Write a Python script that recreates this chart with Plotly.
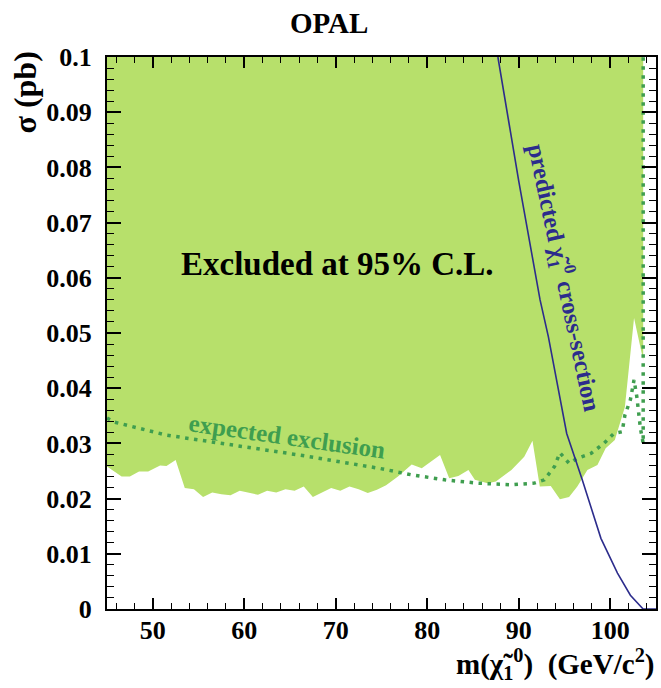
import plotly.graph_objects as go

# Observed 95% CL upper limit (lower edge of excluded region)
obs_mass = [45.0, 46.6, 47.5, 48.5, 49.5, 50.8, 51.5, 52.5, 53.5, 54.5, 55.5, 56.5, 57.5,
            58.5, 59.5, 60.5, 61.5, 62.5, 63.5, 64.5, 65.5, 66.5, 67.5, 68.5, 69.5, 70.5,
            71.5, 72.5, 73.5, 74.5, 75.5, 76.8, 78.3, 79.4, 81.4, 82.4, 83.4, 84.5, 85.2,
            86.6, 87.5, 89.2, 90.6, 91.5, 92.3, 93.5, 94.5, 95.5, 96.4, 97.5, 98.6, 99.5,
            100.5, 101.6, 102.6, 103.6]
obs_sigma = [0.0258, 0.0240, 0.0240, 0.0249, 0.0249, 0.0260, 0.0259, 0.0270, 0.0219, 0.0217,
             0.0203, 0.0211, 0.0208, 0.0206, 0.0214, 0.0210, 0.0207, 0.0214, 0.0211, 0.0217,
             0.0214, 0.0222, 0.0203, 0.0211, 0.0219, 0.0214, 0.0222, 0.0217, 0.0210, 0.0216,
             0.0224, 0.0240, 0.0262, 0.0255, 0.0279, 0.0237, 0.0241, 0.0252, 0.0234, 0.0228,
             0.0231, 0.0252, 0.0276, 0.0305, 0.0222, 0.0223, 0.0199, 0.0203, 0.0222, 0.0252,
             0.0261, 0.0291, 0.0306, 0.0366, 0.0527, 0.0451]

# Expected exclusion
exp_mass = [45.0, 45.7, 51.5, 58.7, 66.0, 74.7, 78.3, 81.9, 85.5, 89.2, 91.7, 92.8, 93.9,
            94.5, 95.5, 96.4, 97.9, 99.3, 100.4, 101.3, 101.6, 102.2, 102.6, 102.9, 103.1,
            103.3, 103.6, 103.6]
exp_sigma = [0.0346, 0.0339, 0.0315, 0.0297, 0.0279, 0.0255, 0.0243, 0.0234, 0.0228, 0.0225,
             0.0228, 0.0234, 0.0258, 0.0283, 0.0264, 0.0273, 0.0282, 0.0300, 0.0318, 0.0321,
             0.0351, 0.0379, 0.0415, 0.0385, 0.0354, 0.0327, 0.0300, 0.1000]

# Predicted neutralino cross-section
pred_mass = [87.72, 90.0, 92.33, 93.24, 95.24, 96.94, 98.98, 100.79, 102.2, 103.59, 105.0]
pred_sigma = [0.100, 0.0775, 0.0560, 0.0493, 0.0318, 0.0234, 0.0128, 0.0065, 0.0025, 0.0, 0.0]

x_ticks = [50, 60, 70, 80, 90, 100]
x_ticktext = ["50", "60", "70", "80", "90", "100"]
y_ticks = [0, 0.01, 0.02, 0.03, 0.04, 0.05, 0.06, 0.07, 0.08, 0.09, 0.1]
y_ticktext = ["0", "0.01", "0.02", "0.03", "0.04", "0.05", "0.06", "0.07", "0.08", "0.09", "0.1"]

X_RANGE = [45, 105]
Y_RANGE = [0, 0.1]

FILL = "#b7e06b"
DOT = "#3f9e4f"
BLUE = "#2c2c8c"
FONT = "Liberation Serif"

fig = go.Figure()

# Excluded region: above observed limit up to top of the axis
fig.add_trace(go.Scatter(
    x=obs_mass + [obs_mass[-1], obs_mass[0]],
    y=obs_sigma + [Y_RANGE[1], Y_RANGE[1]],
    fill="toself", fillcolor=FILL, mode="lines", line=dict(width=0, color=FILL),
    hoverinfo="skip", showlegend=False))

fig.add_trace(go.Scatter(
    x=exp_mass, y=exp_sigma, mode="lines",
    line=dict(color=DOT, width=3.5, dash="3.5px,5.5px"),
    showlegend=False))

fig.add_trace(go.Scatter(
    x=pred_mass, y=pred_sigma, mode="lines",
    line=dict(color=BLUE, width=1.6),
    showlegend=False))

axis_common = dict(
    showgrid=False, zeroline=False, showline=True, linecolor="black", linewidth=2,
    mirror="ticks", ticks="inside", tickcolor="black", tickwidth=1.5,
    tickfont=dict(family=FONT, size=26, color="black", weight="bold"),
)

fig.update_xaxes(range=X_RANGE, tickvals=x_ticks, ticktext=x_ticktext, ticklen=11,
                 ticklabelstandoff=-3,
                 minor=dict(dtick=2, ticklen=6, ticks="inside", tickcolor="black", tickwidth=1.2),
                 **axis_common)
fig.update_yaxes(range=Y_RANGE, tickvals=y_ticks, ticktext=y_ticktext, ticklen=14,
                 ticklabelstandoff=8,
                 minor=dict(dtick=0.002, ticklen=7, ticks="inside", tickcolor="black", tickwidth=1.2),
                 **axis_common)

fig.add_annotation(x=70.2, y=0.0625, xref="x", yref="y", text="Excluded at 95% C.L.",
                   showarrow=False, font=dict(family=FONT, size=33, color="black", weight="bold"))
fig.add_annotation(x=64.7, y=0.0312, xref="x", yref="y", text="expected exclusion",
                   showarrow=False, textangle=8,
                   font=dict(family=FONT, size=25, color=DOT, weight="bold"))
fig.add_annotation(x=95.0, y=0.0600, xref="x", yref="y",
                   text="predicted χ\u0303<sub>1</sub><sup>0</sup> cross-section",
                   showarrow=False, textangle=78,
                   font=dict(family=FONT, size=24.5, color=BLUE, weight="bold"))

# Title and axis titles
fig.add_annotation(x=0.405, y=1, xref="paper", yref="paper", xanchor="center", yanchor="bottom",
                   yshift=16, text="OPAL", showarrow=False,
                   font=dict(family=FONT, size=29, color="black", weight="bold"))
fig.add_annotation(x=-0.149, y=0.936, xref="paper", yref="paper", xanchor="center", yanchor="middle",
                   text="σ (pb)", textangle=-90, showarrow=False,
                   font=dict(family=FONT, size=32, color="black", weight="bold"))
fig.add_annotation(x=1.0, y=0, xref="paper", yref="paper", xanchor="right", yanchor="top",
                   yshift=-33, text="m(χ\u0303<sub>1</sub><sup>0</sup>)  (GeV/c<sup>2</sup>)",
                   showarrow=False,
                   font=dict(family=FONT, size=29, color="black", weight="bold"))

fig.update_layout(
    width=661, height=688,
    margin=dict(l=107, r=3, t=57, b=79),
    paper_bgcolor="white", plot_bgcolor="white",
    font=dict(family=FONT, color="black"),
    showlegend=False,
)

fig.write_html("out.html")
